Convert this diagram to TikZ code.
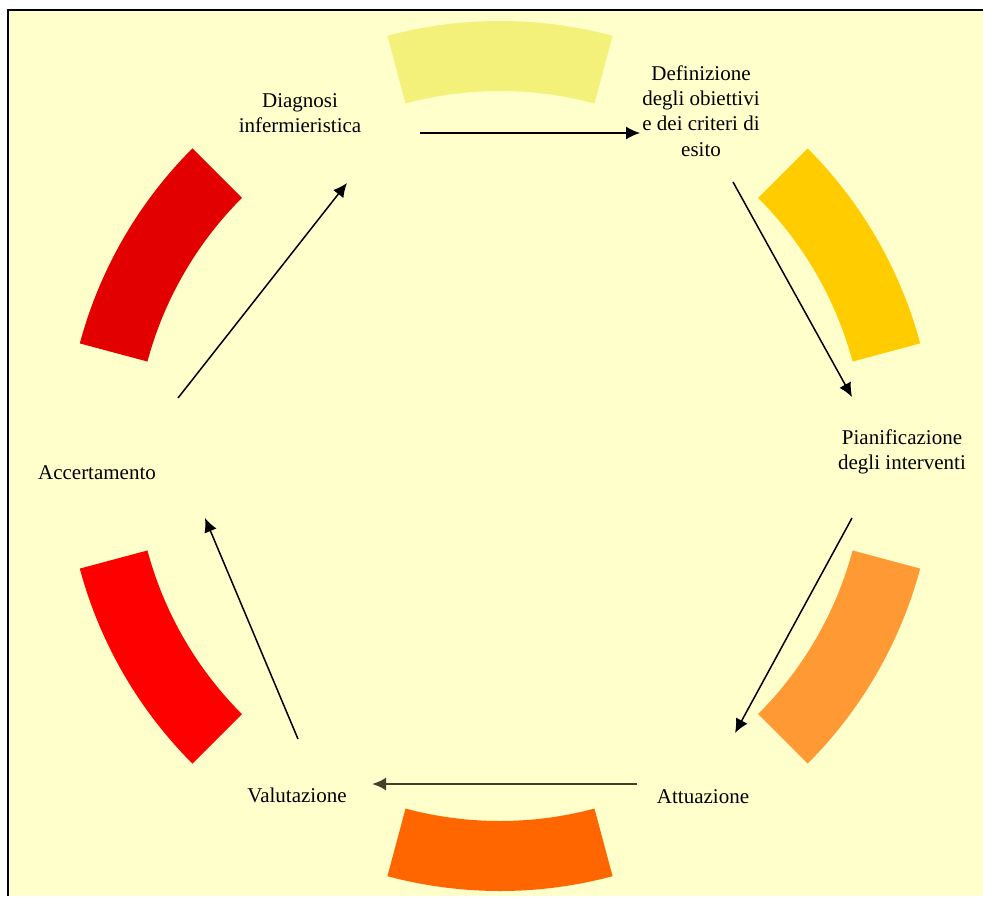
\documentclass[tikz,border=0pt]{standalone}
\usepackage{fontspec}
\setmainfont{Liberation Serif}
\usetikzlibrary{calc}
\usetikzlibrary{arrows.meta}

\definecolor{bgyel}{RGB}{255,255,204}
\definecolor{segA}{RGB}{243,241,122}
\definecolor{segB}{RGB}{255,204,0}
\definecolor{segC}{RGB}{255,153,51}
\definecolor{segD}{RGB}{255,102,0}
\definecolor{segE}{RGB}{255,0,0}
\definecolor{segF}{RGB}{226,0,0}

\tikzset{
  phase/.style={align=center, font=\fontsize{10.5}{12.7}\selectfont, inner sep=1},
  flow/.style={black, line width=.75pt, -{Latex[length=7pt,width=6.5pt]}},
}

\begin{document}
\begin{tikzpicture}[x=.5pt, y=.5pt]
\useasboundingbox (0,0) rectangle (983,896);
\fill[bgyel] (8,0) rectangle (983,886);
\draw[black, line width=1pt] (8,0) |- (983,886);
\coordinate (O) at (500,440);
% ring segments
\foreach \ang/\col in {90/segA, 30/segB, -30/segC, -90/segD, -150/segE, 150/segF} {
 \fill[\col] ($(O)+({\ang-15}:365)$) arc[start angle=\ang-15, end angle=\ang+15, radius=365]
   -- ($(O)+({\ang+15}:435)$) arc[start angle=\ang+15, end angle=\ang-15, radius=435] -- cycle;
}
% phases
\node[phase] (diag)   at (300,783) {Diagnosi\\infermieristica};
\node[phase] (defin)  at (701,785) {Definizione\\degli obiettivi\\e dei criteri di\\esito};
\node[phase] (pianif) at (902,444) {Pianificazione\\degli interventi};
\node[phase] (attua)  at (703,99)  {Attuazione};
\node[phase] (valut)  at (297,101) {Valutazione};
\node[phase] (accert) at (97,423)  {Accertamento};
% arrow ends
\coordinate (diag-out)   at (420,763);
\coordinate (defin-in)   at (640,763);
\coordinate (defin-out)  at (733,714);
\coordinate (pianif-in)  at (852,499);
\coordinate (pianif-out) at (852,378);
\coordinate (attua-in)   at (735,163);
\coordinate (attua-out)  at (637,112);
\coordinate (valut-in)   at (372,112);
\coordinate (valut-out)  at (298,157);
\coordinate (accert-in)  at (205,378);
\coordinate (accert-out) at (178,498);
\coordinate (diag-in)    at (347,713);
\draw[flow] (diag-out) -- (defin-in);
\draw[flow] (defin-out) -- (pianif-in);
\draw[flow] (pianif-out) -- (attua-in);
\draw[flow, black!70!olive, line width=1.3pt] (attua-out) -- (valut-in);
\draw[flow] (valut-out) -- (accert-in);
\draw[flow] (accert-out) -- (diag-in);
\end{tikzpicture}
\end{document}
